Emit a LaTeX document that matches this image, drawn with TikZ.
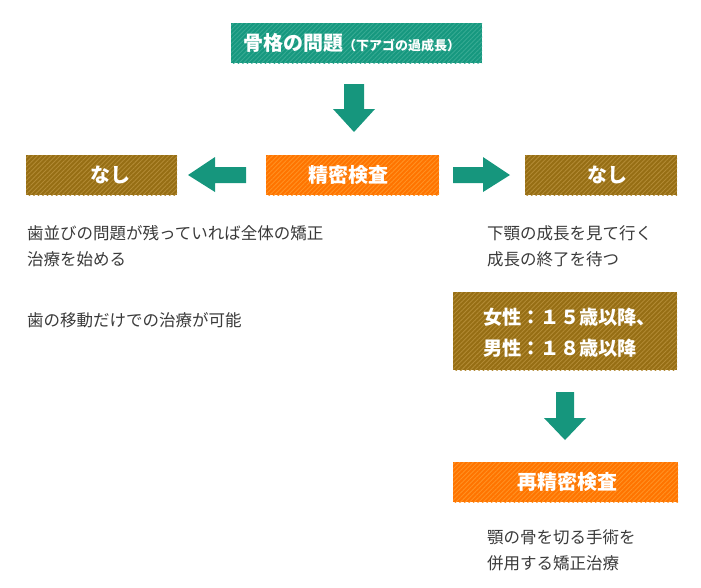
\documentclass[tikz,border=0pt]{standalone}
\usepackage{fontspec}
\setmainfont{Noto Sans CJK JP}
\usetikzlibrary{patterns.meta}
\definecolor{teal1}{RGB}{22,152,127}
\definecolor{teal2}{RGB}{55,170,147}
\definecolor{brown1}{RGB}{150,110,20}
\definecolor{brown2}{RGB}{178,138,52}
\definecolor{orange1}{RGB}{255,116,0}
\definecolor{orange2}{RGB}{255,146,35}
\definecolor{arrowteal}{RGB}{22,150,125}
\definecolor{txt}{RGB}{58,58,58}
\tikzset{
  box/.style={rectangle, draw=none, inner sep=0pt},
  hatch/.style={postaction={pattern={Lines[angle=45,distance=3.2pt,line width=0.9pt]}, pattern color=#1}},
  tealbox/.style={box, fill=teal1, hatch=teal2},
  brownbox/.style={box, fill=brown1, hatch=brown2},
  orangebox/.style={box, fill=orange1, hatch=orange2},
  boxtext/.style={text=white, font=\fontsize{19}{22}\selectfont\bfseries, inner sep=0pt},
  bodytext/.style={text=txt, font=\fontsize{16.5}{26}\selectfont, align=left, inner sep=0pt, anchor=west},
  bigarrow/.style={fill=arrowteal, draw=none}
}
\begin{document}
\begin{tikzpicture}[x=1pt,y=-1pt]
\useasboundingbox (0,0) rectangle (701,587);
% boxes
\node[tealbox, minimum width=251pt, minimum height=40pt] (top) at (356.5,43) {};
\node[brownbox, minimum width=151pt, minimum height=40pt] (nashiL) at (101.5,175) {};
\node[orangebox, minimum width=173pt, minimum height=40pt] (seimitsu) at (352.5,175) {};
\node[brownbox, minimum width=152pt, minimum height=40pt] (nashiR) at (601,175) {};
\node[brownbox, minimum width=224pt, minimum height=78pt] (age) at (565,331) {};
\node[orangebox, minimum width=225pt, minimum height=40pt] (sai) at (565.5,482) {};
% box texts
\node[boxtext, anchor=west] (toptxt) at (243,43) {{\fontsize{20}{24}\selectfont 骨格の問題}{\fontsize{13}{15}\selectfont （下アゴの過成長）}};
\node[boxtext] (nashiLtxt) at (110,175) {\fontsize{20}{24}\selectfont なし};
\node[boxtext] (seimitsutxt) at (348,175) {\fontsize{20}{24}\selectfont 精密検査};
\node[boxtext] (nashiRtxt) at (607,175) {\fontsize{20}{24}\selectfont なし};
\node[boxtext, anchor=west, align=left, font=\fontsize{19.2}{31}\selectfont\bfseries] (agetxt) at (483,332.5) {女性：１５歳以降、\\男性：１８歳以降};
\node[boxtext] (saitxt) at (567,482) {\fontsize{20}{24}\selectfont 再精密検査};
% body texts
\node[bodytext] (leftA) at (27,246) {歯並びの問題が残っていれば全体の矯正\\治療を始める};
\node[bodytext] (leftB) at (27,320) {歯の移動だけでの治療が可能};
\node[bodytext] (rightA) at (487,246) {下顎の成長を見て行く\\成長の終了を待つ};
\node[bodytext] (rightB) at (487,550) {顎の骨を切る手術を\\併用する矯正治療};
% arrows
\fill[bigarrow] (344,84) -- (364,84) -- (364,109) -- (375,109) -- (354,132) -- (333,109) -- (344,109) -- cycle;
\fill[bigarrow] (246,167) -- (215,167) -- (215,157) -- (188,175) -- (215,192) -- (215,183) -- (246,183) -- cycle;
\fill[bigarrow] (453,167) -- (483,167) -- (483,157) -- (510,175) -- (483,192) -- (483,183) -- (453,183) -- cycle;
\fill[bigarrow] (556,392) -- (574,392) -- (574,418) -- (586,418) -- (565,440) -- (544,418) -- (556,418) -- cycle;
\end{tikzpicture}
\end{document}
